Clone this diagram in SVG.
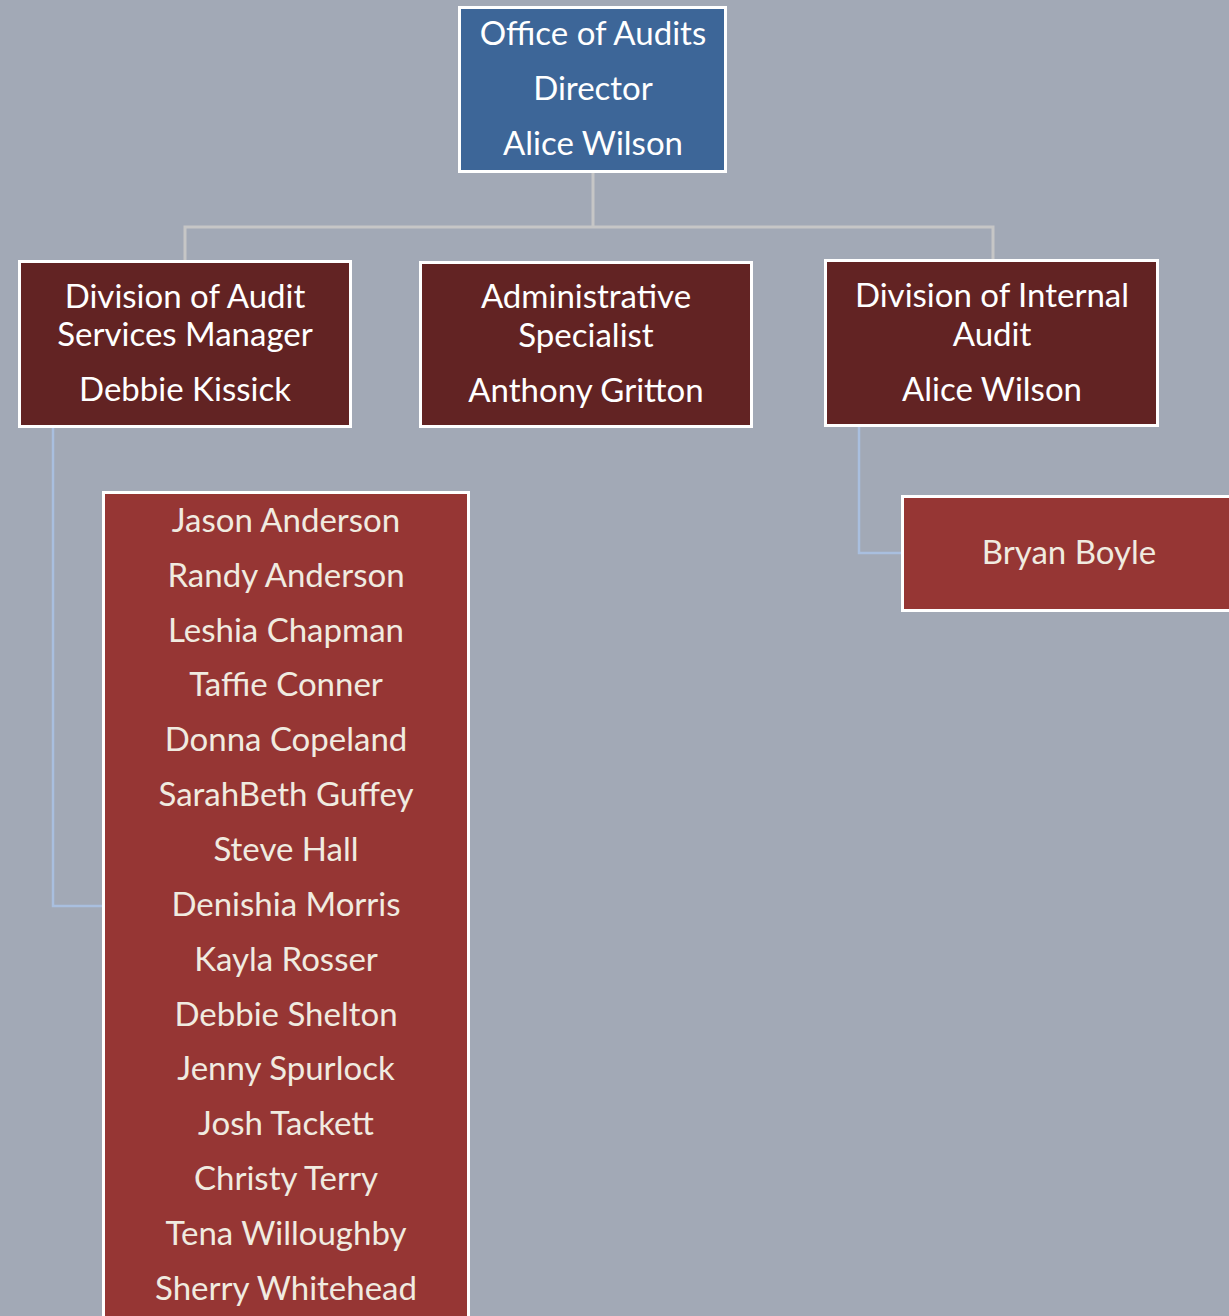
<svg xmlns="http://www.w3.org/2000/svg" width="1229" height="1316" viewBox="0 0 1229 1316">
<style>
.bg{fill:#a2a9b6}
.box{stroke:#ffffff;stroke-width:3}
.top{fill:#3d6698}
.mgr{fill:#622323}
.staff{fill:#963634}
text{font-family:Lato,"Open Sans","Liberation Sans",sans-serif;font-size:33px;text-anchor:middle}
.w{fill:#ffffff}
.c{fill:#f0ebe0}
.gray{stroke:#c6c6c6;stroke-width:3;fill:none}
.blue{stroke:#a9bfdf;stroke-width:2.5;fill:none}
</style>
<rect class="bg" x="0" y="0" width="1229" height="1316"/>
<g id="connectors">
<path class="gray" d="M593 173 V227 M185 261 V227 H993 V260"/>
<path class="blue" d="M53 428 V906 H103"/>
<path class="blue" d="M859 427 V553 H902"/>
</g>
<g id="director">
<rect class="box top" x="459.5" y="7.5" width="266" height="164"/>
<text class="w" x="593" y="45">Office of Audits</text>
<text class="w" x="593" y="100">Director</text>
<text class="w" x="593" y="155">Alice Wilson</text>
</g>
<g id="audit-services">
<rect class="box mgr" x="19.5" y="261.5" width="331" height="165"/>
<text class="w" x="185" y="308">Division of Audit</text>
<text class="w" x="185" y="346">Services Manager</text>
<text class="w" x="185" y="401">Debbie Kissick</text>
</g>
<g id="admin">
<rect class="box mgr" x="420.5" y="262.5" width="331" height="164"/>
<text class="w" x="586" y="308">Administrative</text>
<text class="w" x="586" y="347">Specialist</text>
<text class="w" x="586" y="402">Anthony Gritton</text>
</g>
<g id="internal-audit">
<rect class="box mgr" x="825.5" y="260.5" width="332" height="165"/>
<text class="w" x="992" y="307">Division of Internal</text>
<text class="w" x="992" y="346">Audit</text>
<text class="w" x="992" y="401">Alice Wilson</text>
</g>
<g id="audit-staff">
<rect class="box staff" x="103.5" y="492.5" width="365" height="830"/>
<text class="c" x="286" y="532">Jason Anderson</text>
<text class="c" x="286" y="587">Randy Anderson</text>
<text class="c" x="286" y="642">Leshia Chapman</text>
<text class="c" x="286" y="696">Taffie Conner</text>
<text class="c" x="286" y="751">Donna Copeland</text>
<text class="c" x="286" y="806">SarahBeth Guffey</text>
<text class="c" x="286" y="861">Steve Hall</text>
<text class="c" x="286" y="916">Denishia Morris</text>
<text class="c" x="286" y="971">Kayla Rosser</text>
<text class="c" x="286" y="1026">Debbie Shelton</text>
<text class="c" x="286" y="1080">Jenny Spurlock</text>
<text class="c" x="286" y="1135">Josh Tackett</text>
<text class="c" x="286" y="1190">Christy Terry</text>
<text class="c" x="286" y="1245">Tena Willoughby</text>
<text class="c" x="286" y="1300">Sherry Whitehead</text>
</g>
<g id="internal-staff">
<rect class="box staff" x="902.5" y="496.5" width="340" height="114"/>
<text class="c" x="1069" y="564">Bryan Boyle</text>
</g>
</svg>
